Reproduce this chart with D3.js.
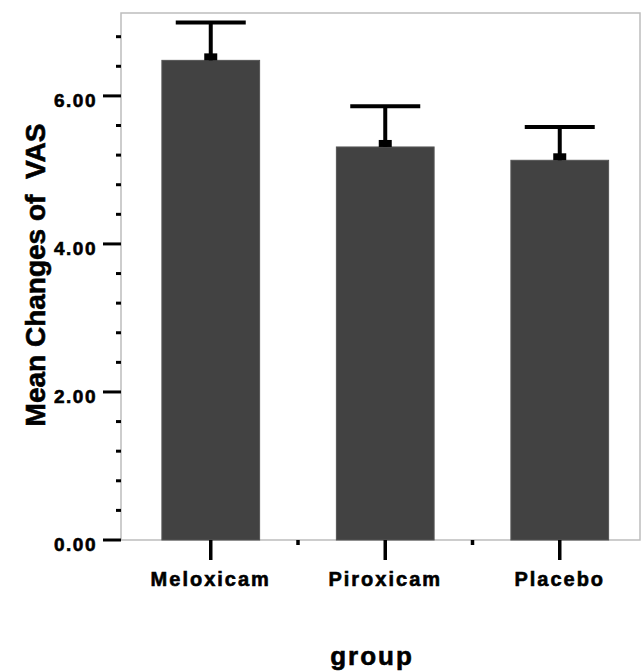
<!DOCTYPE html>
<html>
<head>
<meta charset="utf-8">
<script src="https://cdn.jsdelivr.net/npm/d3@7"></script>
<style>
  body { margin: 0; background: #fff; }
  text { font-family: "Liberation Sans", Arial, sans-serif; font-weight: bold; fill: #000; stroke: #000; stroke-width: 0.6; }
</style>
</head>
<body>
<script>
var w = 641;
var h = 671;

// data
var groups = ["Meloxicam", "Piroxicam", "Placebo"];
var means = [6.48, 5.31, 5.13];
var upper = [6.99, 5.86, 5.58];   // mean + error
var majorTicks = [0, 2, 4, 6];
var minorTicks = [0.4, 0.8, 1.2, 1.6, 2.4, 2.8, 3.2, 3.6, 4.4, 4.8, 5.2, 5.6, 6.4, 6.8];

drawChart();
function drawChart() {
    var plotL = 121, plotR = 640, plotT = 13, plotB = 540;

    var svg = d3.select("body")
        .append("svg")
        .attr("width", w)
        .attr("height", h);

    var y = d3.scaleLinear().domain([0, 7.12]).range([plotB, plotT]);
    var x = d3.scaleBand().domain(groups).range([123.5, 647])
        .paddingInner(0.44).paddingOuter(0.22);
    var cx = function (d) { return x(d) + x.bandwidth() / 2; };

    //---frame-----
    svg.append("rect")
        .attr("x", plotL)
        .attr("y", plotT)
        .attr("width", plotR - plotL)
        .attr("height", plotB - plotT)
        .attr("fill", "none")
        .attr("stroke", "#bdbdbd")
        .attr("stroke-width", 1.5);

    //---bars-----
    svg.selectAll(".bar")
        .data(groups)
        .enter()
        .append("rect")
        .attr("class", "bar")
        .attr("x", function (d) { return x(d); })
        .attr("y", function (d, i) { return y(means[i]); })
        .attr("width", x.bandwidth())
        .attr("height", function (d, i) { return y(0) - y(means[i]); })
        .attr("fill", "#424242")
        .attr("stroke", "#555")
        .attr("stroke-width", 1);

    //---error bars-----
    svg.selectAll(".stem")
        .data(groups)
        .enter()
        .append("line")
        .attr("x1", cx)
        .attr("x2", cx)
        .attr("y1", function (d, i) { return y(means[i]); })
        .attr("y2", function (d, i) { return y(upper[i]); })
        .attr("stroke", "#000")
        .attr("stroke-width", 4);

    svg.selectAll(".cap")
        .data(groups)
        .enter()
        .append("line")
        .attr("x1", function (d) { return cx(d) - 35; })
        .attr("x2", function (d) { return cx(d) + 35; })
        .attr("y1", function (d, i) { return y(upper[i]); })
        .attr("y2", function (d, i) { return y(upper[i]); })
        .attr("stroke", "#000")
        .attr("stroke-width", 4);

    svg.selectAll(".foot")
        .data(groups)
        .enter()
        .append("rect")
        .attr("x", function (d) { return cx(d) - 6.5; })
        .attr("y", function (d, i) { return y(means[i]) - 7; })
        .attr("width", 13)
        .attr("height", 7)
        .attr("fill", "#000");

    //---y axis-----
    svg.selectAll(".ymajor")
        .data(majorTicks)
        .enter()
        .append("line")
        .attr("x1", 103)
        .attr("x2", plotL)
        .attr("y1", function (d) { return y(d); })
        .attr("y2", function (d) { return y(d); })
        .attr("stroke", "#000")
        .attr("stroke-width", 3);

    svg.selectAll(".yminor")
        .data(minorTicks)
        .enter()
        .append("line")
        .attr("x1", 116)
        .attr("x2", plotL)
        .attr("y1", function (d) { return y(d); })
        .attr("y2", function (d) { return y(d); })
        .attr("stroke", "#000")
        .attr("stroke-width", 3);

    svg.selectAll(".ylabel")
        .data(majorTicks)
        .enter()
        .append("text")
        .text(function (d) { return d.toFixed(2); })
        .attr("x", 97)
        .attr("y", function (d) { return y(d) + 11; })
        .attr("text-anchor", "end")
        .attr("font-size", 19)
        .attr("letter-spacing", 1.5);

    svg.append("text")
        .text("Mean Changes of  VAS")
        .attr("xml:space", "preserve")
        .attr("transform", "translate(45,275) rotate(-90)")
        .attr("text-anchor", "middle")
        .attr("font-size", 28);

    //---x axis-----
    svg.selectAll(".xmajor")
        .data(groups)
        .enter()
        .append("line")
        .attr("x1", cx)
        .attr("x2", cx)
        .attr("y1", plotB)
        .attr("y2", 560)
        .attr("stroke", "#000")
        .attr("stroke-width", 3.5);

    svg.selectAll(".xminor")
        .data(groups.slice(1))
        .enter()
        .append("line")
        .attr("x1", function (d) { return x(d) - x.step() * x.paddingInner() / 2; })
        .attr("x2", function (d) { return x(d) - x.step() * x.paddingInner() / 2; })
        .attr("y1", plotB)
        .attr("y2", 545)
        .attr("stroke", "#000")
        .attr("stroke-width", 3.5);

    svg.selectAll(".xlabel")
        .data(groups)
        .enter()
        .append("text")
        .text(function (d) { return d; })
        .attr("x", cx)
        .attr("y", 586)
        .attr("text-anchor", "middle")
        .attr("font-size", 20)
        .attr("letter-spacing", 2);

    svg.append("text")
        .text("group")
        .attr("x", 372)
        .attr("y", 665)
        .attr("text-anchor", "middle")
        .attr("font-size", 26)
        .attr("letter-spacing", 2);
}
</script>
</body>
</html>
